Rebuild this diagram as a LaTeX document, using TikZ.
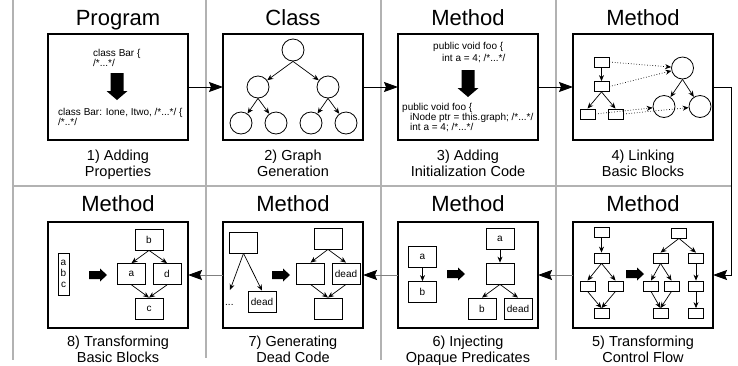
\documentclass[tikz,border=0pt]{standalone}
\usepackage{fontspec}
\setmainfont{Liberation Sans}
\usetikzlibrary{arrows.meta,positioning}
\tikzstyle{panel}=[
	rectangle,
	draw,
	line width=1.1pt,
	minimum width=140pt,
	minimum height=106pt,
	inner sep=0pt,
	outer sep=0pt,
	node distance=82pt and 35pt
]
\tikzstyle{title}=[font=\fontsize{22}{24}\selectfont, inner sep=0pt]
\tikzstyle{caption}=[font=\fontsize{14.5}{16}\selectfont, align=center, inner sep=0pt]
\tikzstyle{code}=[font=\fontsize{10}{11}\selectfont, inner sep=0pt, anchor=west, text height=7pt, text depth=2pt]
\tikzstyle{blk}=[rectangle, draw, line width=0.8pt, minimum width=15pt, minimum height=10pt, inner sep=0pt]
\tikzstyle{bigblk}=[rectangle, draw, line width=0.8pt, minimum width=28pt, minimum height=21pt, inner sep=0pt, font=\fontsize{10}{11}\selectfont]
\tikzstyle{vertex}=[circle, draw, line width=0.8pt, minimum size=22pt, inner sep=0pt]
\tikzstyle{flow}=[-{Stealth[length=6pt,width=5pt]}, line width=0.7pt]
\tikzstyle{hint}=[flow, dotted]
\tikzstyle{link}=[-{Stealth[length=14pt,width=10pt,inset=2pt]}, line width=1pt]
\tikzstyle{backlink}=[-{Stealth[length=14pt,width=10pt,inset=2pt,color=black]}, draw=gray, line width=1pt]
\tikzstyle{sep}=[gray!60, line width=1.2pt]
\tikzset{
	down arrow/.pic={\fill (-6.5pt,0) -- (6.5pt,0) -- (6.5pt,-18pt) -- (10.5pt,-18pt) -- (0,-27pt) -- (-10.5pt,-18pt) -- (-6.5pt,-18pt) -- cycle;},
	right arrow/.pic={\fill (0,4pt) -- (11pt,4pt) -- (11pt,6.5pt) -- (18pt,0) -- (11pt,-6.5pt) -- (11pt,-4pt) -- (0,-4pt) -- cycle;}
}

\begin{document}
\begin{tikzpicture}[x=1pt,y=-1pt]
\useasboundingbox (0,0) rectangle (738,365);

% grid
\draw[sep] (13,0) -- (13,360);
\draw[sep] (206,0) -- (206,358);
\draw[sep] (381,0) -- (381,360);
\draw[sep] (556,0) -- (556,360);
\draw[sep] (13,186) -- (731,186);

% panels
\node [panel] (box1) at (118,87) {};
\node [panel] (box2)[right=of box1] {};
\node [panel] (box3)[right=of box2] {};
\node [panel] (box4)[right=of box3] {};
\node [panel] (box5)[below=of box4] {};
\node [panel] (box6)[left=of box5] {};
\node [panel] (box7)[left=of box6] {};
\node [panel] (box8)[left=of box7] {};

% titles
\node [title, anchor=base] (t1) at ([yshift=9pt]box1.north) {Program};
\node [title, anchor=base] (t2) at ([yshift=9pt]box2.north) {Class};
\node [title, anchor=base] (t3) at ([yshift=9pt]box3.north) {Method};
\node [title, anchor=base] (t4) at ([yshift=9pt]box4.north) {Method};
\node [title, anchor=base] (t5) at ([yshift=11pt]box5.north) {Method};
\node [title, anchor=base] (t6) at ([yshift=11pt]box6.north) {Method};
\node [title, anchor=base] (t7) at ([yshift=11pt]box7.north) {Method};
\node [title, anchor=base] (t8) at ([yshift=11pt]box8.north) {Method};

% captions
\node [caption, anchor=north] (s1) at ([yshift=-10pt]box1.south) {1) Adding\\Properties};
\node [caption, anchor=north] (s2) at ([yshift=-10pt]box2.south) {2) Graph\\Generation};
\node [caption, anchor=north] (s3) at ([yshift=-10pt]box3.south) {3) Adding\\Initialization Code};
\node [caption, anchor=north] (s4) at ([yshift=-10pt]box4.south) {4) Linking\\Basic Blocks};
\node [caption, anchor=north] (s5) at ([yshift=-8pt]box5.south) {5) Transforming\\Control Flow};
\node [caption, anchor=north] (s6) at ([yshift=-8pt]box6.south) {6) Injecting\\Opaque Predicates};
\node [caption, anchor=north] (s7) at ([yshift=-8pt]box7.south) {7) Generating\\Dead Code};
\node [caption, anchor=north] (s8) at ([yshift=-8pt]box8.south) {8) Transforming\\Basic Blocks};

% 1) properties
\node [code] (p1) at (93,54) {class Bar \{};
\node [code] (p2) at (93,63.5) {/*...*/};
\pic at (117,73) {down arrow};
\node [code] (p3) at (58,113) {class Bar: Ione, Itwo, /*...*/ \{};
\node [code] (p4) at (58,123) {/*..*/};

% 2) graph
\node [vertex] (root) at (293,50) {};
\node [vertex] (l) at (258,87) {};
\node [vertex] (r) at (328,87) {};
\node [vertex] (ll) at (241,123) {};
\node [vertex] (lr) at (276,123) {};
\node [vertex] (rl) at (311,123) {};
\node [vertex] (rr) at (346,123) {};
\draw [flow] (root.south) -- (l);
\draw [flow] (root.south) -- (r);
\draw [flow] (l.south) -- (ll);
\draw [flow] (l.south) -- (lr);
\draw [flow] (r.south) -- (rl);
\draw [flow] (r.south) -- (rr);

% 3) initialization
\node [code] (m1) at (433,47) {public void foo \{};
\node [code] (m2) at (442,59) {int a = 4; /*...*/};
\pic at (468,70) {down arrow};
\node [code] (m3) at (402,108) {public void foo \{};
\node [code] (m4) at (410,118) {iNode ptr = this.graph; /*...*/};
\node [code] (m5) at (410,128) {int a = 4; /*...*/};

% 4) linking
\node [blk] (r1) at (601.5,62) {};
\node [blk] (r2) at (601.5,86.5) {};
\node [blk] (r3) at (587.5,114) {};
\node [blk] (r4) at (615.5,114) {};
\node [vertex] (c1) at (682.5,68) {};
\node [vertex] (c2) at (664,106.5) {};
\node [vertex] (c3) at (700,106.5) {};
\draw [flow] (r1) -- (r2);
\draw [flow] (r2.south) -- (r3.north);
\draw [flow] (r2.south) -- (r4.north);
\draw [flow] (c1.south) -- (c2);
\draw [flow] (c1.south) -- (c3);
\draw [hint] (r1.east) -- (c1);
\draw [hint] (r2.east) -- (c1);
\draw [hint] (r3.east) -- (c2);
\draw [hint] (r4.east) -- (c3);

% 5) control flow
\node [blk] (f1) at (601.5,232.5) {};
\node [blk] (f2) at (601.5,258) {};
\node [blk] (f3) at (587.5,286) {};
\node [blk] (f4) at (615.5,286) {};
\node [blk] (f5) at (601.5,313.5) {};
\draw [flow] (f1) -- (f2);
\draw [flow] (f2.south) -- (f3.north);
\draw [flow] (f2.south) -- (f4.north);
\draw [flow] (f3.south) -- (f5.north);
\draw [flow] (f4.south) -- (f5.north);
\pic at (626,274) {right arrow};
\node [blk] (g1) at (679,233) {};
\node [blk] (g2) at (660.5,258) {};
\node [blk] (g3) at (696,258) {};
\node [blk] (g4) at (651,286) {};
\node [blk] (g5) at (671.5,286) {};
\node [blk] (g6) at (696,286) {};
\node [blk] (g7) at (660.5,313.5) {};
\node [blk] (g8) at (696,313.5) {};
\draw [flow] (g1.south) -- (g2.north);
\draw [flow] (g1.south) -- (g3.north);
\draw [flow] (g2.south) -- (g4.north);
\draw [flow] (g2.south) -- (g5.north);
\draw [flow] (g4.south) -- (g7.north);
\draw [flow] (g5.south) -- (g7.north);
\draw [flow] (g3) -- (g6);
\draw [flow] (g6) -- (g8);

% 6) opaque predicates
\node [bigblk] (oa) at (422.5,256.5) {a};
\node [bigblk] (ob) at (422.5,292) {b};
\draw [flow] (oa) -- (ob);
\pic at (447,274) {right arrow};
\node [bigblk] (pa) at (500,238.5) {a};
\node [bigblk] (pq) at (500,273.5) {};
\node [bigblk] (pb) at (482,308.5) {b};
\node [bigblk] (pd) at (518,308.5) {dead};
\draw [flow] (pa) -- (pq);
\draw [flow] (pq.south) -- (pb.north);
\draw [flow] (pq.south) -- (pd.north);

% 7) dead code
\node [bigblk] (da) at (243.5,242.5) {};
\node [bigblk] (dd) at (262,301.5) {dead};
\node [code] (dots) at (225,303) {...};
\coordinate (dotsend) at (230,290);
\draw [flow] (da.south) -- (dotsend);
\draw [flow] (da.south) -- (dd.north);
\pic at (272,275) {right arrow};
\node [bigblk] (ea) at (328,238.5) {};
\node [bigblk] (eb) at (310.5,273.5) {};
\node [bigblk] (ed) at (346,273.5) {dead};
\node [bigblk] (ec) at (328,308.5) {};
\draw [flow] (ea.south) -- (eb.north);
\draw [flow] (ea.south) -- (ed.north);
\draw [flow] (eb.south) -- (ec.north);
\draw [flow] (ed.south) -- (ec.north);

% 8) basic blocks
\node [bigblk, minimum width=11pt, minimum height=42pt, align=center] (abc) at (63.5,274) {a\\b\\c};
\pic at (89,275) {right arrow};
\node [bigblk] (hb) at (149,239.5) {b};
\node [bigblk] (ha) at (131.5,274) {a};
\node [bigblk] (hd) at (167,274) {d};
\node [bigblk] (hc) at (149,308.5) {c};
\draw [flow] (hb.south) -- (ha.north);
\draw [flow] (hb.south) -- (hd.north);
\draw [flow] (ha.south) -- (hc.north);
\draw [flow] (hd.south) -- (hc.north);

% pipeline
\draw [link] (box1) -- (box2);
\draw [link] (box2) -- (box3);
\draw [link] (box3) -- (box4);
\draw [link] (box4.east) -- ++(18,0) |- (box5.east);
\draw [backlink] (box5) -- (box6);
\draw [backlink] (box6) -- (box7);
\draw [backlink] (box7) -- (box8);
\end{tikzpicture}
\end{document}
